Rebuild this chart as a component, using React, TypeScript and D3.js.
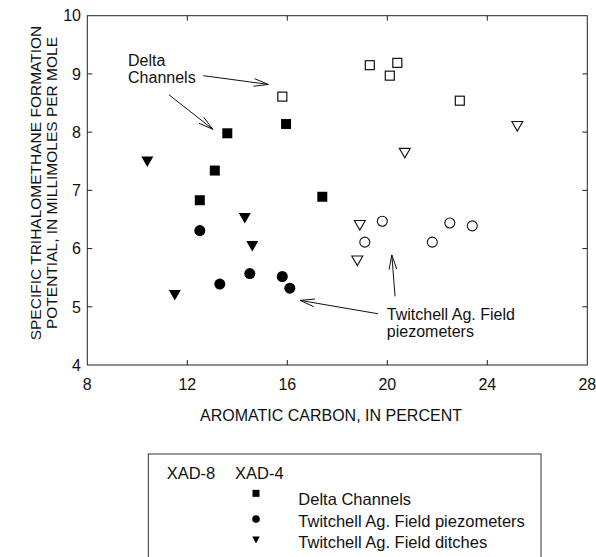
import React from 'react';
import * as d3 from 'd3';

// aromatic carbon (%) vs specific THMFP (mmol/mol)
const xad4DeltaX = [13.6, 15.95, 13.1, 12.5, 17.4];
const xad4DeltaY = [7.98, 8.14, 7.34, 6.83, 6.89];
const xad4PiezoX = [12.5, 14.5, 13.3, 15.8, 16.1];
const xad4PiezoY = [6.31, 5.57, 5.39, 5.52, 5.32];
const xad4DitchX = [10.4, 14.3, 14.6, 11.5];
const xad4DitchY = [7.49, 6.52, 6.04, 5.2];

const xad8DeltaX = [15.8, 19.3, 20.4, 20.1, 22.9];
const xad8DeltaY = [8.61, 9.15, 9.19, 8.97, 8.54];
const xad8PiezoX = [19.8, 19.1, 22.5, 23.4, 21.8];
const xad8PiezoY = [6.47, 6.11, 6.44, 6.39, 6.11];
const xad8DitchX = [25.2, 20.7, 18.9, 18.8];
const xad8DitchY = [8.1, 7.64, 6.4, 5.79];

const xTicks = [8, 12, 16, 20, 24, 28];
const yTicks = [4, 5, 6, 7, 8, 9, 10];

const legendLabels = ['Delta Channels', 'Twitchell Ag. Field piezometers', 'Twitchell Ag. Field ditches'];

// annotation arrows, in data units: [x1, y1, x2(tip), y2(tip)]
const arrows = [
  [12.64, 8.97, 15.24, 8.82],
  [11.27, 8.64, 13.02, 8.05],
  [19.63, 4.88, 16.51, 5.11],
  [20.31, 5.18, 20.18, 5.89],
];

const W = 596;
const H = 557;
const margin = { left: 87.3, right: 8.7, top: 15.7, bottom: 192 };
const FONT = 'Liberation Sans, Arial, Helvetica, sans-serif';

const zip = (xs: number[], ys: number[]) => xs.map((x, i) => [x, ys[i]]);

function Square({ x, y, s, open }: any) {
  return open
    ? <rect x={x - s / 2} y={y - s / 2} width={s} height={s} fill="#fff" stroke="#111" strokeWidth={1.2} />
    : <rect x={x - s / 2} y={y - s / 2} width={s} height={s} fill="#000" />;
}

function Circle({ x, y, r, open }: any) {
  return open
    ? <circle cx={x} cy={y} r={r} fill="#fff" stroke="#111" strokeWidth={1.1} />
    : <circle cx={x} cy={y} r={r} fill="#000" />;
}

function Tri({ x, y, w, h, open }: any) {
  const p = d3.path();
  p.moveTo(x - w / 2, y - h / 2);
  p.lineTo(x + w / 2, y - h / 2);
  p.lineTo(x, y + h / 2);
  p.closePath();
  return open
    ? <path d={p.toString()} fill="#fff" stroke="#111" strokeWidth={1.1} />
    : <path d={p.toString()} fill="#000" />;
}

function Arrow({ x1, y1, x2, y2 }: any) {
  const ang = Math.atan2(y1 - y2, x1 - x2);
  const len = 15;
  const spread = 0.26;
  const a = [x2 + len * Math.cos(ang + spread), y2 + len * Math.sin(ang + spread)];
  const b = [x2 + len * Math.cos(ang - spread), y2 + len * Math.sin(ang - spread)];
  return (
    <g stroke="#111" strokeWidth={1} fill="none">
      <line x1={x1} y1={y1} x2={x2} y2={y2} />
      <polyline points={`${a[0]},${a[1]} ${x2},${y2} ${b[0]},${b[1]}`} />
    </g>
  );
}

export default function App() {
  const x = d3.scaleLinear().domain([8, 28]).range([margin.left, W - margin.right]);
  const y = d3.scaleLinear().domain([4, 10]).range([H - margin.bottom, margin.top]);
  const [x0, x1] = x.range();
  const [y0, y1] = y.range();
  const tick = 5;

  return (
    <svg width={W} height={H} style={{ position: 'absolute', left: 0, top: 0, display: 'block' }}
      fontFamily={FONT} fill="#111">
      <rect x={0} y={0} width={W} height={H} fill="#fff" />

      {/* frame */}
      <rect x={x0} y={y1} width={x1 - x0} height={y0 - y1} fill="none" stroke="#222" strokeWidth={1} />
      {xTicks.slice(1, -1).map(t => (
        <g key={'xt' + t} stroke="#222">
          <line x1={x(t)} x2={x(t)} y1={y0} y2={y0 - tick} />
          <line x1={x(t)} x2={x(t)} y1={y1} y2={y1 + tick} />
        </g>
      ))}
      {yTicks.slice(1, -1).map(t => (
        <g key={'yt' + t} stroke="#222">
          <line x1={x0} x2={x0 + tick} y1={y(t)} y2={y(t)} />
          <line x1={x1} x2={x1 - tick} y1={y(t)} y2={y(t)} />
        </g>
      ))}
      {xTicks.map(t => (
        <text key={'xl' + t} x={x(t)} y={390} textAnchor="middle" fontSize={16}>{t}</text>
      ))}
      {yTicks.map(t => (
        <text key={'yl' + t} x={81} y={y(t)} dy="0.36em" textAnchor="end" fontSize={16}>{t}</text>
      ))}

      <text x={331} y={421} textAnchor="middle" fontSize={16}>AROMATIC CARBON, IN PERCENT</text>
      <g transform="translate(41,183) rotate(-90)">
        <text x={0} y={0} textAnchor="middle" fontSize={15.5}>SPECIFIC TRIHALOMETHANE FORMATION</text>
        <text x={0} y={16} textAnchor="middle" fontSize={15.5}>POTENTIAL, IN MILLIMOLES PER MOLE</text>
      </g>

      {/* XAD-8 (open) */}
      {zip(xad8DeltaX, xad8DeltaY).map(([a, b], i) => <Square key={'s8' + i} x={x(a)} y={y(b)} s={9} open />)}
      {zip(xad8PiezoX, xad8PiezoY).map(([a, b], i) => <Circle key={'c8' + i} x={x(a)} y={y(b)} r={5} open />)}
      {zip(xad8DitchX, xad8DitchY).map(([a, b], i) => <Tri key={'t8' + i} x={x(a)} y={y(b)} w={11} h={9.5} open />)}

      {/* XAD-4 (filled) */}
      {zip(xad4DeltaX, xad4DeltaY).map(([a, b], i) => <Square key={'s4' + i} x={x(a)} y={y(b)} s={10} />)}
      {zip(xad4PiezoX, xad4PiezoY).map(([a, b], i) => <Circle key={'c4' + i} x={x(a)} y={y(b)} r={5.5} />)}
      {zip(xad4DitchX, xad4DitchY).map(([a, b], i) => <Tri key={'t4' + i} x={x(a)} y={y(b)} w={12} h={10.5} />)}

      {/* annotations */}
      {arrows.map((d, i) => <Arrow key={'a' + i} x1={x(d[0])} y1={y(d[1])} x2={x(d[2])} y2={y(d[3])} />)}
      <text x={x(9.63)} y={y(9.14)} fontSize={16}>Delta</text>
      <text x={x(9.63)} y={y(8.84)} fontSize={16}>Channels</text>
      <text x={x(19.98)} y={y(4.78)} fontSize={16}>Twitchell Ag. Field</text>
      <text x={x(19.98)} y={y(4.48)} fontSize={16}>piezometers</text>

      {/* legend */}
      <rect x={148.3} y={454} width={392.7} height={130} fill="none" stroke="#333" strokeWidth={1} />
      <text x={166.7} y={479} fontSize={16.5}>XAD-8</text>
      <text x={235} y={479} fontSize={16.5}>XAD-4</text>
      <Square x={256} y={493.3} s={7} />
      <Circle x={256} y={519} r={3.8} />
      <Tri x={256} y={540} w={7.5} h={7} />
      {legendLabels.map((l, i) => (
        <text key={l} x={298.3} y={505 + i * 21.7} fontSize={16.5}>{l}</text>
      ))}
    </svg>
  );
}
